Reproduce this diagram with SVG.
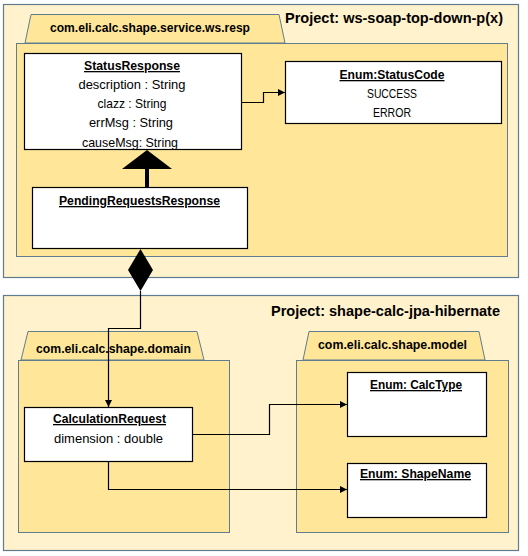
<svg xmlns="http://www.w3.org/2000/svg" width="528" height="556" viewBox="0 0 528 556">
<style>
.frame{fill:#FFF2CC;stroke:#5F7D8E;stroke-width:1.2}
.pkg{fill:#FFE699;stroke:#5F7D8E;stroke-width:1}
.cls{fill:#FFFFFF;stroke:#000;stroke-width:1.2}
.t{font-family:"Liberation Sans",Arial,sans-serif;font-size:13px;fill:#000;text-anchor:middle}
.b{font-weight:bold}
.u{text-decoration:underline}
.title{font-family:"Liberation Sans",Arial,sans-serif;font-size:15px;font-weight:bold;fill:#000}
.pk{font-family:"Liberation Sans",Arial,sans-serif;font-size:13px;font-weight:bold;fill:#000}
.ln{fill:none;stroke:#000;stroke-width:1.2}
</style>
<defs>
<marker id="arr" viewBox="0 0 10 10" refX="10" refY="5" markerWidth="7" markerHeight="7" markerUnits="userSpaceOnUse" orient="auto">
<path d="M0,0 L10,5 L0,10 z" fill="#000"/>
</marker>
<clipPath id="clipSR"><rect x="24" y="53" width="218" height="96"/></clipPath>
</defs>
<rect width="528" height="556" fill="#FFFFFF"/>

<g id="project-ws">
<rect class="frame" x="3.5" y="4.5" width="515" height="273"/>
<text class="title" x="285" y="23" textLength="218" lengthAdjust="spacingAndGlyphs">Project: ws-soap-top-down-p(x)</text>
</g>
<g id="pkg-ws-resp">
<path class="pkg" d="M25,43 L31,14.5 L279,14.5 L285,43 Z"/>
<rect class="pkg" x="16.5" y="43.5" width="491" height="213"/>
<text class="pk" x="50" y="32" textLength="200" lengthAdjust="spacingAndGlyphs">com.eli.calc.shape.service.ws.resp</text>
</g>

<g id="project-jpa">
<rect class="frame" x="3.5" y="295.5" width="515" height="255"/>
<text class="title" x="271" y="316" textLength="229" lengthAdjust="spacingAndGlyphs">Project: shape-calc-jpa-hibernate</text>
</g>
<g id="pkg-domain">
<path class="pkg" d="M21,360 L28,331.5 L197,331.5 L204,360 Z"/>
<rect class="pkg" x="18.5" y="360.5" width="211" height="172"/>
<text class="pk" x="36" y="353" textLength="155" lengthAdjust="spacingAndGlyphs">com.eli.calc.shape.domain</text>
</g>
<g id="pkg-model">
<path class="pkg" d="M303,360 L309,331.5 L479,331.5 L485,360 Z"/>
<rect class="pkg" x="296.5" y="360.5" width="212" height="172"/>
<text class="pk" x="318" y="349" textLength="149" lengthAdjust="spacingAndGlyphs">com.eli.calc.shape.model</text>
</g>

<g id="StatusResponse">
<rect class="cls" x="24.5" y="53.5" width="217" height="96"/>
<g clip-path="url(#clipSR)">
<text class="t b u" x="132" y="70" textLength="96" lengthAdjust="spacingAndGlyphs">StatusResponse</text>
<text class="t" x="132" y="89" textLength="107" lengthAdjust="spacingAndGlyphs">description  : String</text>
<text class="t" x="132" y="108" textLength="69" lengthAdjust="spacingAndGlyphs">clazz : String</text>
<text class="t" x="131" y="127" textLength="84" lengthAdjust="spacingAndGlyphs">errMsg : String</text>
<text class="t" x="130" y="147" textLength="96" lengthAdjust="spacingAndGlyphs">causeMsg: String</text>
</g>
</g>

<g id="StatusCode">
<rect class="cls" x="285.5" y="61.5" width="216" height="62"/>
<text class="t b u" x="392" y="79" textLength="105" lengthAdjust="spacingAndGlyphs">Enum:StatusCode</text>
<text class="t" x="392" y="98" textLength="50" lengthAdjust="spacingAndGlyphs">SUCCESS</text>
<text class="t" x="392" y="117" textLength="38" lengthAdjust="spacingAndGlyphs">ERROR</text>
</g>

<g id="PendingRequestsResponse">
<rect class="cls" x="32.5" y="187.5" width="215" height="61"/>
<text class="t b u" x="139.5" y="205" textLength="161" lengthAdjust="spacingAndGlyphs">PendingRequestsResponse</text>
</g>

<g id="CalculationRequest">
<rect class="cls" x="24.5" y="407.5" width="168" height="54"/>
<text class="t b u" x="109.5" y="423" textLength="113" lengthAdjust="spacingAndGlyphs">CalculationRequest</text>
<text class="t" x="108.5" y="443" textLength="109" lengthAdjust="spacingAndGlyphs">dimension  : double</text>
</g>

<g id="CalcType">
<rect class="cls" x="347.5" y="372.5" width="139" height="64"/>
<text class="t b u" x="416" y="389" textLength="92" lengthAdjust="spacingAndGlyphs">Enum: CalcType</text>
</g>

<g id="ShapeName">
<rect class="cls" x="347.5" y="463.5" width="139" height="54"/>
<text class="t b u" x="415.5" y="478" textLength="111" lengthAdjust="spacingAndGlyphs">Enum: ShapeName</text>
</g>

<g id="connectors">
<path class="ln" d="M242,102.5 L263.5,102.5 L263.5,92.5 L285,92.5" marker-end="url(#arr)"/>
<line x1="147" y1="168" x2="147" y2="187" stroke="#000" stroke-width="4"/>
<path d="M147,150 L172,169 L122,169 Z" fill="#000"/>
<path d="M140.5,249 L153,270 L140.5,291 L128,270 Z" fill="#000"/>
<path class="ln" d="M140.5,291 L140.5,328.5 L108.5,328.5 L108.5,407" marker-end="url(#arr)"/>
<path class="ln" d="M193,434.5 L269.5,434.5 L269.5,404.5 L347,404.5" marker-end="url(#arr)"/>
<path class="ln" d="M108.5,462 L108.5,489.5 L347,489.5" marker-end="url(#arr)"/>
</g>
</svg>
